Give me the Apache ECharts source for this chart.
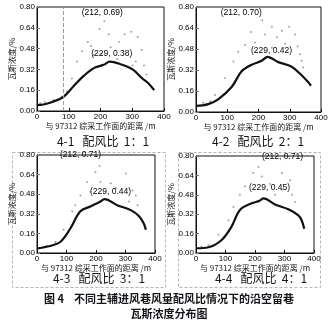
<!DOCTYPE html>
<html>
<head>
<meta charset="utf-8">
<script src="https://cdn.jsdelivr.net/npm/echarts@6/dist/echarts.min.js"></script>
<style>
  html, body { margin: 0; padding: 0; background: #fff; }
  #chart { width: 335px; height: 323px; }
</style>
</head>
<body>
<div id="chart"></div>
<script>
// Distance from face 97312 (m) vs gas concentration (%), fitted trend per ratio
const trend11 = [[0,0.045],[20,0.05],[41,0.064],[60,0.08],[84,0.11],[115,0.19],[147,0.27],[179,0.33],[210,0.355],[229,0.38],[263,0.36],[301,0.32],[332,0.25],[352,0.21],[369,0.16]];
const trend21 = [[0,0.046],[20,0.05],[39,0.06],[71,0.097],[114,0.19],[146,0.31],[178,0.36],[210,0.39],[229,0.42],[263,0.38],[306,0.345],[338,0.28],[358,0.23],[368,0.20]];
const trend31 = [[0,0.038],[20,0.045],[44,0.057],[79,0.09],[113,0.20],[147,0.34],[181,0.38],[215,0.42],[229,0.44],[272,0.39],[318,0.35],[346,0.30],[362,0.24],[369,0.19]];
const trend41 = [[0,0.039],[42,0.047],[87,0.107],[121,0.22],[149,0.355],[189,0.41],[215,0.43],[229,0.45],[268,0.40],[313,0.36],[347,0.31],[358,0.27],[367,0.20]];

// Measured points
const pts11 = [[10,0.06],[25,0.07],[52,0.085],[78,0.11],[94,0.15],[110,0.25],[126,0.38],[142,0.46],[160,0.53],[170,0.50],[179,0.43],[197,0.63],[203,0.44],[212,0.69],[226,0.59],[232,0.49],[253,0.40],[258,0.53],[276,0.59],[297,0.61],[301,0.35],[311,0.38],[317,0.57],[330,0.47],[337,0.35],[345,0.28]];
const pts21 = [[23,0.07],[45,0.084],[61,0.13],[93,0.26],[120,0.385],[135,0.46],[157,0.51],[176,0.61],[189,0.53],[212,0.70],[221,0.59],[243,0.65],[243,0.49],[259,0.57],[275,0.62],[285,0.52],[298,0.65],[317,0.59],[325,0.50],[333,0.44],[338,0.39],[343,0.34]];
const pts31 = [[33,0.06],[62,0.09],[90,0.19],[119,0.34],[130,0.39],[147,0.47],[170,0.58],[181,0.50],[198,0.66],[212,0.71],[215,0.58],[250,0.57],[267,0.53],[301,0.65],[312,0.42],[324,0.51],[335,0.47],[341,0.39]];
const pts41 = [[19,0.052],[42,0.066],[76,0.15],[110,0.27],[127,0.38],[149,0.48],[166,0.55],[194,0.66],[212,0.71],[223,0.63],[251,0.57],[268,0.48],[291,0.66],[291,0.52],[319,0.60],[325,0.48],[336,0.42]];

// Callouts: [x, y] of the marked point
const peakPts = [[212,0.69],[212,0.70],[212,0.71],[212,0.71]];
const trendPeaks = [[229,0.38],[229,0.42],[229,0.44],[229,0.45]];

const xTicks = [0, 100, 200, 300, 400];
const yTicks = [0, 0.16, 0.32, 0.48, 0.64, 0.80];
const subtitles = ['4-1   配风比  1：1', '4-2   配风比  2：1', '4-3   配风比  3：1', '4-4   配风比  4：1'];
const xName = '与 97312 综采工作面的距离 /m';
const yName = '瓦斯浓度/%';
const captionLines = ['图 4    不同主辅进风巷风量配风比情况下的沿空留巷', '瓦斯浓度分布图'];
const guideX = 82;

const trends = [trend11, trend21, trend31, trend41];
const points = [pts11, pts21, pts31, pts41];

const FONT = 'Liberation Sans, Arial, Noto Sans CJK SC, sans-serif';
const CJK = 'Noto Sans CJK SC, sans-serif';
const INK = '#15151c';

const grids = [
  { left: 37, top: 7, width: 127, height: 104 },
  { left: 196, top: 7, width: 125, height: 105 },
  { left: 37, top: 155, width: 118, height: 98 },
  { left: 196, top: 156, width: 118, height: 97 }
];
const yGaps = [18, 15, 17, 17];
const peakOffsets = [[-2, -9], [-21, -7], [-19, -11], [24, -10]];
const trendOffsets = [[2, -8], [4, -6], [6, -7], [6, -11]];

const option = {
  animation: false,
  grid: grids.map(g => Object.assign({ show: true, borderColor: '#111', borderWidth: 1, containLabel: false }, g)),
  xAxis: grids.map((g, i) => ({
    gridIndex: i, type: 'value', min: xTicks[0], max: xTicks[xTicks.length - 1], interval: 100,
    name: xName, nameLocation: 'middle', nameGap: 11,
    nameTextStyle: { fontSize: 8, color: INK, fontFamily: CJK },
    axisLine: { lineStyle: { color: '#111', width: 1 } },
    axisTick: { inside: true, length: 3, lineStyle: { color: '#111' } },
    axisLabel: { fontSize: 8, color: '#000', fontFamily: FONT, margin: 2 },
    splitLine: { show: false }
  })),
  yAxis: grids.map((g, i) => ({
    gridIndex: i, type: 'value', min: yTicks[0], max: yTicks[yTicks.length - 1], interval: 0.16,
    name: yName, nameLocation: 'middle', nameGap: yGaps[i],
    nameTextStyle: { fontSize: 8, color: INK, fontFamily: CJK },
    axisLine: { lineStyle: { color: '#111', width: 1 } },
    axisTick: { inside: true, length: 3, lineStyle: { color: '#777' } },
    axisLabel: { fontSize: 8, color: '#000', fontFamily: FONT, margin: 2, formatter: v => v.toFixed(2) },
    splitLine: { show: false }
  })),
  series: [],
  graphic: []
};

const fmt = p => '(' + p.data.coord[0] + ', ' + p.data.coord[1].toFixed(2) + ')';
const labelStyle = { show: true, fontSize: 8.5, color: '#000', fontFamily: FONT, position: 'inside', formatter: fmt };

for (let i = 0; i < 4; i++) {
  option.series.push({
    type: 'scatter', xAxisIndex: i, yAxisIndex: i, data: points[i],
    symbolSize: 2, itemStyle: { color: '#8a8a8a' }, z: 2,
    markPoint: {
      silent: true, symbol: 'rect', symbolSize: 0.01,
      itemStyle: { color: '#000' },
      data: [
        { coord: peakPts[i], label: Object.assign({ offset: peakOffsets[i] }, labelStyle) },
        { coord: trendPeaks[i], label: Object.assign({ offset: trendOffsets[i] }, labelStyle) }
      ]
    }
  });
  option.series.push({
    type: 'line', xAxisIndex: i, yAxisIndex: i, data: trends[i], smooth: 0.35,
    showSymbol: false, lineStyle: { color: '#111', width: 2.2 }, z: 3,
    markLine: i === 0 ? {
      silent: true, symbol: 'none', label: { show: false },
      lineStyle: { color: '#9a9a9a', type: 'dashed', width: 1 },
      data: [{ xAxis: guideX }]
    } : undefined
  });
}

const subPos = [[103, 141], [258, 141], [99, 278], [261, 278]];
subtitles.forEach((t, i) => {
  option.graphic.push({
    type: 'text', x: subPos[i][0], y: subPos[i][1],
    style: { text: t, fontSize: 12, fill: INK, fontFamily: CJK, align: 'center', verticalAlign: 'middle' }
  });
});

// dashed frames around the lower pair
[[12, 152, 153, 135], [178, 152, 142, 135]].forEach(r => {
  option.graphic.push({
    type: 'rect', shape: { x: r[0] + 0.5, y: r[1] + 0.5, width: r[2], height: r[3] },
    style: { fill: 'none', stroke: '#b4b4b4', lineWidth: 1, lineDash: [3, 2] }, z: -1
  });
});

captionLines.forEach((t, i) => {
  option.graphic.push({
    type: 'text', x: 169, y: 299 + i * 15,
    style: { text: t, fontSize: 11, fontWeight: 'bold', fill: INK, fontFamily: CJK, align: 'center', verticalAlign: 'middle' }
  });
});

const chart = echarts.init(document.getElementById('chart'), null, { renderer: 'canvas' });
chart.setOption(option);
</script>
</body>
</html>
